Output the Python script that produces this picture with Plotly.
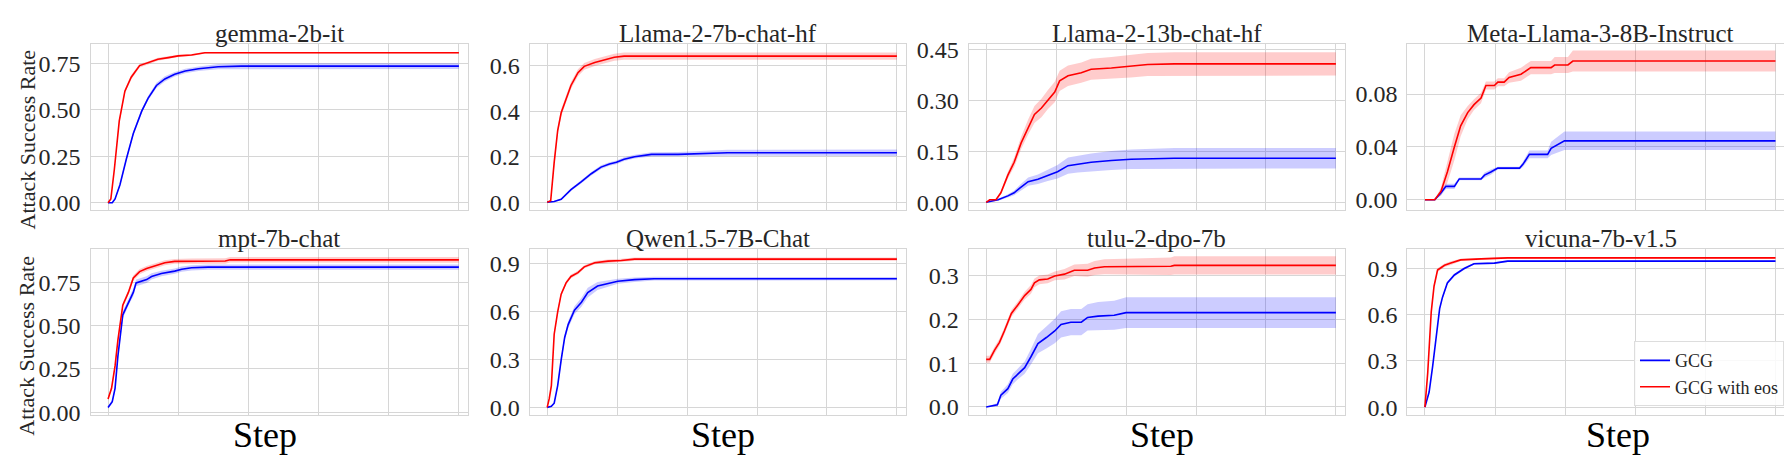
import plotly.graph_objects as go

# ---------------- DATA ----------------
MODELS = ["gemma-2b-it", "Llama-2-7b-chat-hf", "Llama-2-13b-chat-hf", "Meta-Llama-3-8B-Instruct",
          "mpt-7b-chat", "Qwen1.5-7B-Chat", "tulu-2-dpo-7b", "vicuna-7b-v1.5"]
SERIES = ["GCG", "GCG with eos"]
X_TICKS = [0, 100, 200, 300, 400, 500]

# gemma-2b-it
GEMMA_GCG_STEPS = [0, 6, 10, 17, 26, 36, 48, 57, 69, 81, 95, 110, 129, 157, 190, 500]
GEMMA_GCG = [0, 0, 0.02, 0.097, 0.234, 0.372, 0.493, 0.562, 0.631, 0.666, 0.691, 0.709, 0.721, 0.732, 0.735, 0.735]
GEMMA_GCG_STD = [0, 0, 0.005, 0.008, 0.01, 0.012, 0.012, 0.012, 0.014, 0.014, 0.012, 0.012, 0.012, 0.014, 0.015, 0.015]
GEMMA_EOS_STEPS = [0, 4, 9, 16, 24, 33, 45, 57, 71, 86, 100, 119, 133, 138, 500]
GEMMA_EOS = [0, 0.02, 0.18, 0.44, 0.60, 0.675, 0.738, 0.752, 0.772, 0.781, 0.79, 0.795, 0.803, 0.807, 0.807]
GEMMA_EOS_STD = [0, 0.005, 0.01, 0.012, 0.012, 0.012, 0.01, 0.008, 0.008, 0.006, 0.006, 0.005, 0.004, 0.004, 0.004]

# Llama-2-7b-chat-hf
L7_GCG_STEPS = [0, 10, 20, 34, 49, 63, 77, 89, 99, 110, 125, 149, 187, 258, 500]
L7_GCG = [0, 0.003, 0.013, 0.055, 0.09, 0.125, 0.154, 0.168, 0.175, 0.189, 0.2, 0.21, 0.21, 0.217, 0.217]
L7_GCG_STD = [0, 0.002, 0.004, 0.006, 0.007, 0.008, 0.008, 0.008, 0.008, 0.008, 0.008, 0.009, 0.01, 0.013, 0.014]
L7_EOS_STEPS = [0, 5, 10, 15, 20, 27, 34, 44, 53, 68, 82, 96, 110, 500]
L7_EOS = [0, 0.006, 0.175, 0.315, 0.393, 0.45, 0.513, 0.569, 0.597, 0.614, 0.625, 0.637, 0.642, 0.642]
L7_EOS_STD = [0, 0.004, 0.012, 0.015, 0.015, 0.015, 0.015, 0.015, 0.015, 0.015, 0.015, 0.015, 0.016, 0.016]

# Llama-2-13b-chat-hf
L13_GCG_STEPS = [0, 17, 31, 40, 48, 60, 74, 88, 102, 117, 131, 150, 179, 207, 269, 500]
L13_GCG = [0, 0.0075, 0.019, 0.028, 0.042, 0.061, 0.068, 0.08, 0.09, 0.108, 0.113, 0.118, 0.123, 0.127, 0.13, 0.13]
L13_GCG_STD = [0, 0.003, 0.005, 0.007, 0.009, 0.012, 0.014, 0.017, 0.02, 0.024, 0.025, 0.026, 0.028, 0.029, 0.03, 0.03]
L13_EOS_STEPS = [0, 5, 14, 21, 31, 40, 50, 60, 69, 79, 88, 98, 105, 117, 136, 150, 179, 207, 231, 269, 500]
L13_EOS = [0, 0.0075, 0.0075, 0.028, 0.08, 0.118, 0.175, 0.222, 0.259, 0.278, 0.302, 0.325, 0.358, 0.373, 0.382,
           0.392, 0.396, 0.401, 0.406, 0.408, 0.408]
L13_EOS_STD = [0, 0.002, 0.002, 0.005, 0.01, 0.014, 0.018, 0.022, 0.025, 0.027, 0.028, 0.03, 0.03, 0.03, 0.03,
               0.031, 0.032, 0.033, 0.034, 0.034, 0.034]

# Meta-Llama-3-8B-Instruct
L3_GCG_STEPS = [0, 14, 23, 30, 42, 49, 80, 85, 94, 104, 135, 140, 149, 175, 180, 190, 199, 500]
L3_GCG = [0, 0, 0.0053, 0.0102, 0.0102, 0.0158, 0.0158, 0.0187, 0.021, 0.024, 0.024, 0.027, 0.0344, 0.0344,
          0.039, 0.0417, 0.0446, 0.0446]
L3_GCG_STD = [0, 0, 0.002, 0.002, 0.002, 0.001, 0.001, 0.002, 0.002, 0.001, 0.001, 0.002, 0.003, 0.003,
              0.005, 0.006, 0.007, 0.007]
L3_EOS_STEPS = [0, 14, 23, 32, 42, 51, 61, 70, 80, 87, 99, 104, 113, 120, 137, 151, 180, 185, 204, 211, 500]
L3_EOS = [0, 0, 0.0065, 0.021, 0.04, 0.056, 0.066, 0.072, 0.077, 0.0865, 0.0865, 0.089, 0.089, 0.0926, 0.095,
          0.1, 0.1, 0.102, 0.102, 0.105, 0.105]
L3_EOS_STD = [0, 0, 0.003, 0.008, 0.01, 0.008, 0.005, 0.004, 0.004, 0.003, 0.003, 0.003, 0.003, 0.004, 0.005,
              0.005, 0.005, 0.006, 0.006, 0.008, 0.008]

# mpt-7b-chat
MPT_GCG_STEPS = [0, 6, 10, 14, 21, 29, 36, 40, 48, 55, 62, 76, 95, 105, 119, 143, 500]
MPT_GCG = [0.028, 0.061, 0.138, 0.322, 0.562, 0.636, 0.691, 0.746, 0.755, 0.765, 0.783, 0.80, 0.814, 0.825,
           0.833, 0.837, 0.837]
MPT_GCG_STD = [0.008, 0.01, 0.015, 0.02, 0.022, 0.022, 0.022, 0.02, 0.02, 0.02, 0.018, 0.016, 0.015, 0.015,
               0.015, 0.015, 0.015]
MPT_EOS_STEPS = [0, 5, 10, 14, 21, 29, 36, 45, 55, 62, 71, 81, 95, 119, 167, 174, 500]
MPT_EOS = [0.077, 0.138, 0.267, 0.415, 0.617, 0.691, 0.774, 0.811, 0.829, 0.838, 0.848, 0.862, 0.87, 0.872,
           0.872, 0.879, 0.879]
MPT_EOS_STD = [0.01, 0.012, 0.015, 0.015, 0.015, 0.015, 0.015, 0.015, 0.014, 0.014, 0.014, 0.014, 0.014, 0.015,
               0.016, 0.016, 0.017]

# Qwen1.5-7B-Chat
QWEN_GCG_STEPS = [0, 6, 10, 15, 20, 25, 30, 39, 49, 58, 72, 87, 101, 125, 153, 500]
QWEN_GCG = [0, 0.006, 0.026, 0.136, 0.297, 0.437, 0.517, 0.607, 0.657, 0.717, 0.758, 0.774, 0.788, 0.798,
            0.804, 0.804]
QWEN_GCG_STD = [0, 0.003, 0.006, 0.012, 0.018, 0.02, 0.022, 0.025, 0.028, 0.03, 0.025, 0.02, 0.016, 0.014,
                0.012, 0.01]
QWEN_EOS_STEPS = [0, 3, 6, 8, 10, 15, 20, 27, 34, 44, 53, 68, 87, 106, 125, 500]
QWEN_EOS = [0, 0.056, 0.136, 0.297, 0.457, 0.597, 0.707, 0.778, 0.818, 0.842, 0.878, 0.904, 0.914, 0.918,
            0.926, 0.926]
QWEN_EOS_STD = [0, 0.005, 0.01, 0.012, 0.012, 0.012, 0.012, 0.012, 0.012, 0.012, 0.01, 0.01, 0.01, 0.01,
                0.01, 0.01]

# tulu-2-dpo-7b
TULU_GCG_STEPS = [0, 7, 16, 21, 31, 38, 45, 55, 64, 74, 86, 98, 107, 121, 136, 145, 160, 183, 200, 500]
TULU_GCG = [0, 0.0015, 0.005, 0.027, 0.042, 0.064, 0.075, 0.09, 0.115, 0.145, 0.159, 0.174, 0.189, 0.194,
            0.194, 0.205, 0.208, 0.21, 0.216, 0.216]
TULU_GCG_STD = [0, 0.002, 0.004, 0.008, 0.01, 0.012, 0.012, 0.014, 0.018, 0.022, 0.025, 0.028, 0.03, 0.03,
                0.03, 0.03, 0.032, 0.033, 0.035, 0.035]
TULU_EOS_STEPS = [0, 5, 12, 19, 26, 36, 45, 55, 64, 69, 76, 88, 98, 112, 126, 145, 155, 169, 264, 269, 500]
TULU_EOS = [0.109, 0.109, 0.13, 0.148, 0.174, 0.214, 0.233, 0.255, 0.269, 0.284, 0.291, 0.293, 0.300, 0.304,
            0.313, 0.313, 0.318, 0.321, 0.322, 0.324, 0.324]
TULU_EOS_STD = [0.008, 0.008, 0.008, 0.008, 0.008, 0.008, 0.008, 0.009, 0.01, 0.01, 0.01, 0.01, 0.01, 0.012,
                0.013, 0.015, 0.016, 0.017, 0.02, 0.021, 0.021]

# vicuna-7b-v1.5
VIC_GCG_STEPS = [0, 6, 11, 16, 21, 25, 32, 42, 56, 70, 99, 118, 500]
VIC_GCG = [0, 0.098, 0.265, 0.473, 0.64, 0.7125, 0.806, 0.858, 0.90, 0.931, 0.935, 0.948, 0.948]
VIC_GCG_STD = [0, 0.006, 0.008, 0.01, 0.01, 0.01, 0.01, 0.01, 0.008, 0.006, 0.006, 0.006, 0.006]
VIC_EOS_STEPS = [0, 4, 9, 13, 18, 28, 37, 51, 80, 118, 500]
VIC_EOS = [0, 0.223, 0.619, 0.785, 0.89, 0.921, 0.935, 0.956, 0.9625, 0.969, 0.969]
VIC_EOS_STD = [0, 0.01, 0.012, 0.012, 0.012, 0.012, 0.012, 0.008, 0.006, 0.005, 0.005]

# y tick values / labels per panel
Y_TICKS = [[0, 0.25, 0.5, 0.75], [0, 0.2, 0.4, 0.6], [0, 0.15, 0.3, 0.45], [0, 0.04, 0.08],
           [0, 0.25, 0.5, 0.75], [0, 0.3, 0.6, 0.9], [0, 0.1, 0.2, 0.3], [0, 0.3, 0.6, 0.9]]
Y_TICK_LABELS = [["0.00", "0.25", "0.50", "0.75"], ["0.0", "0.2", "0.4", "0.6"],
                 ["0.00", "0.15", "0.30", "0.45"], ["0.00", "0.04", "0.08"],
                 ["0.00", "0.25", "0.50", "0.75"], ["0.0", "0.3", "0.6", "0.9"],
                 ["0.0", "0.1", "0.2", "0.3"], ["0.0", "0.3", "0.6", "0.9"]]

PANELS = [
    (GEMMA_GCG_STEPS, GEMMA_GCG, GEMMA_GCG_STD, GEMMA_EOS_STEPS, GEMMA_EOS, GEMMA_EOS_STD),
    (L7_GCG_STEPS, L7_GCG, L7_GCG_STD, L7_EOS_STEPS, L7_EOS, L7_EOS_STD),
    (L13_GCG_STEPS, L13_GCG, L13_GCG_STD, L13_EOS_STEPS, L13_EOS, L13_EOS_STD),
    (L3_GCG_STEPS, L3_GCG, L3_GCG_STD, L3_EOS_STEPS, L3_EOS, L3_EOS_STD),
    (MPT_GCG_STEPS, MPT_GCG, MPT_GCG_STD, MPT_EOS_STEPS, MPT_EOS, MPT_EOS_STD),
    (QWEN_GCG_STEPS, QWEN_GCG, QWEN_GCG_STD, QWEN_EOS_STEPS, QWEN_EOS, QWEN_EOS_STD),
    (TULU_GCG_STEPS, TULU_GCG, TULU_GCG_STD, TULU_EOS_STEPS, TULU_EOS, TULU_EOS_STD),
    (VIC_GCG_STEPS, VIC_GCG, VIC_GCG_STD, VIC_EOS_STEPS, VIC_EOS, VIC_EOS_STD),
]

# ---------------- LAYOUT ----------------
W, H = 1792, 464
FONT = "Liberation Serif"
TXT = "#262626"
GRID = "#d6d6d6"

COL_PX = [(82.5, 460.0), (521.7, 898.0), (960.7, 1337.0), (1399.4, 1785.7)]
ROW_PX = [(30.0, 203.0), (243.7, 416.0)]
X_RANGES = [[-25, 513], [-25, 513], [-25, 513], [-25, 526]]
Y_RANGES = [[-0.040, 0.855], [-0.035, 0.696], [-0.023, 0.467], [-0.0078, 0.118],
            [-0.015, 0.94], [-0.047, 0.988], [-0.018, 0.361], [-0.05, 1.025]]

COLORS = ["#0000ff", "#ff0000"]
FILLS = ["rgba(0,0,255,0.2)", "rgba(255,0,0,0.2)"]

fig = go.Figure()
layout = dict(
    width=W, height=H, margin=dict(l=0, r=0, t=0, b=0),
    paper_bgcolor="white", plot_bgcolor="white",
    font=dict(family=FONT, color=TXT, size=24),
    showlegend=True,
)
annotations = []

for i in range(8):
    r, c = divmod(i, 4)
    ax = "" if i == 0 else str(i + 1)
    xref, yref = "x" + ax, "y" + ax
    x0, x1 = COL_PX[c]
    y0, y1 = ROW_PX[r]
    layout["xaxis" + ax] = dict(
        domain=[x0 / W, x1 / W], range=X_RANGES[c], anchor=yref,
        tickvals=X_TICKS, showticklabels=False, ticks="",
        showgrid=True, gridcolor=GRID, gridwidth=1, zeroline=False,
        showline=True, linecolor=GRID, linewidth=1.2, mirror=True,
    )
    layout["yaxis" + ax] = dict(
        domain=[1 - y1 / H, 1 - y0 / H], range=Y_RANGES[i], anchor=xref,
        tickvals=Y_TICKS[i], ticktext=Y_TICK_LABELS[i], ticks="",
        tickfont=dict(size=24, family=FONT, color=TXT), ticklabelstandoff=4,
        showgrid=True, gridcolor=GRID, gridwidth=1, zeroline=False,
        showline=True, linecolor=GRID, linewidth=1.2, mirror=True,
    )
    gs, gv, gsd, es, ev, esd = PANELS[i]
    for k, (st, mv, sd) in enumerate([(gs, gv, gsd), (es, ev, esd)]):
        upper = [m + s for m, s in zip(mv, sd)]
        lower = [m - s for m, s in zip(mv, sd)]
        fig.add_trace(go.Scatter(
            x=list(st) + list(st)[::-1], y=upper + lower[::-1],
            fill="toself", fillcolor=FILLS[k], line=dict(width=0),
            mode="lines", hoverinfo="skip", showlegend=False,
            xaxis=xref, yaxis=yref))
    for k, (st, mv) in enumerate([(gs, gv), (es, ev)]):
        fig.add_trace(go.Scatter(
            x=st, y=mv, mode="lines", name=SERIES[k],
            line=dict(color=COLORS[k], width=1.6),
            showlegend=(i == 7), xaxis=xref, yaxis=yref))
    # panel title
    annotations.append(dict(
        text=MODELS[i], xref="paper", yref="paper",
        x=(x0 + x1) / 2 / W, y=1 - (y0 - 11) / H,
        xanchor="center", yanchor="middle", showarrow=False,
        font=dict(size=25, family=FONT, color=TXT)))

STEP_X = [257, 715, 1154, 1610]
for c in range(4):
    annotations.append(dict(
        text="Step", xref="paper", yref="paper",
        x=STEP_X[c] / W, y=1 - 437 / H, xanchor="center", yanchor="middle",
        showarrow=False, font=dict(size=36, family=FONT, color="black")))
for yc in [129.5, 344]:
    annotations.append(dict(
        text="Attack Success Rate", xref="paper", yref="paper",
        x=19 / W, y=1 - yc / H, xanchor="center", yanchor="middle",
        textangle=-90, showarrow=False,
        font=dict(size=22, family=FONT, color=TXT)))

layout["annotations"] = annotations
layout["legend"] = dict(
    x=1776 / W, y=1 - 407 / H, xanchor="right", yanchor="bottom",
    bgcolor="rgba(255,255,255,0.85)", bordercolor="#dddddd", borderwidth=1,
    font=dict(size=18, family=FONT, color=TXT), tracegroupgap=0,
)
fig.update_layout(**layout)
fig.write_html("out.html")
